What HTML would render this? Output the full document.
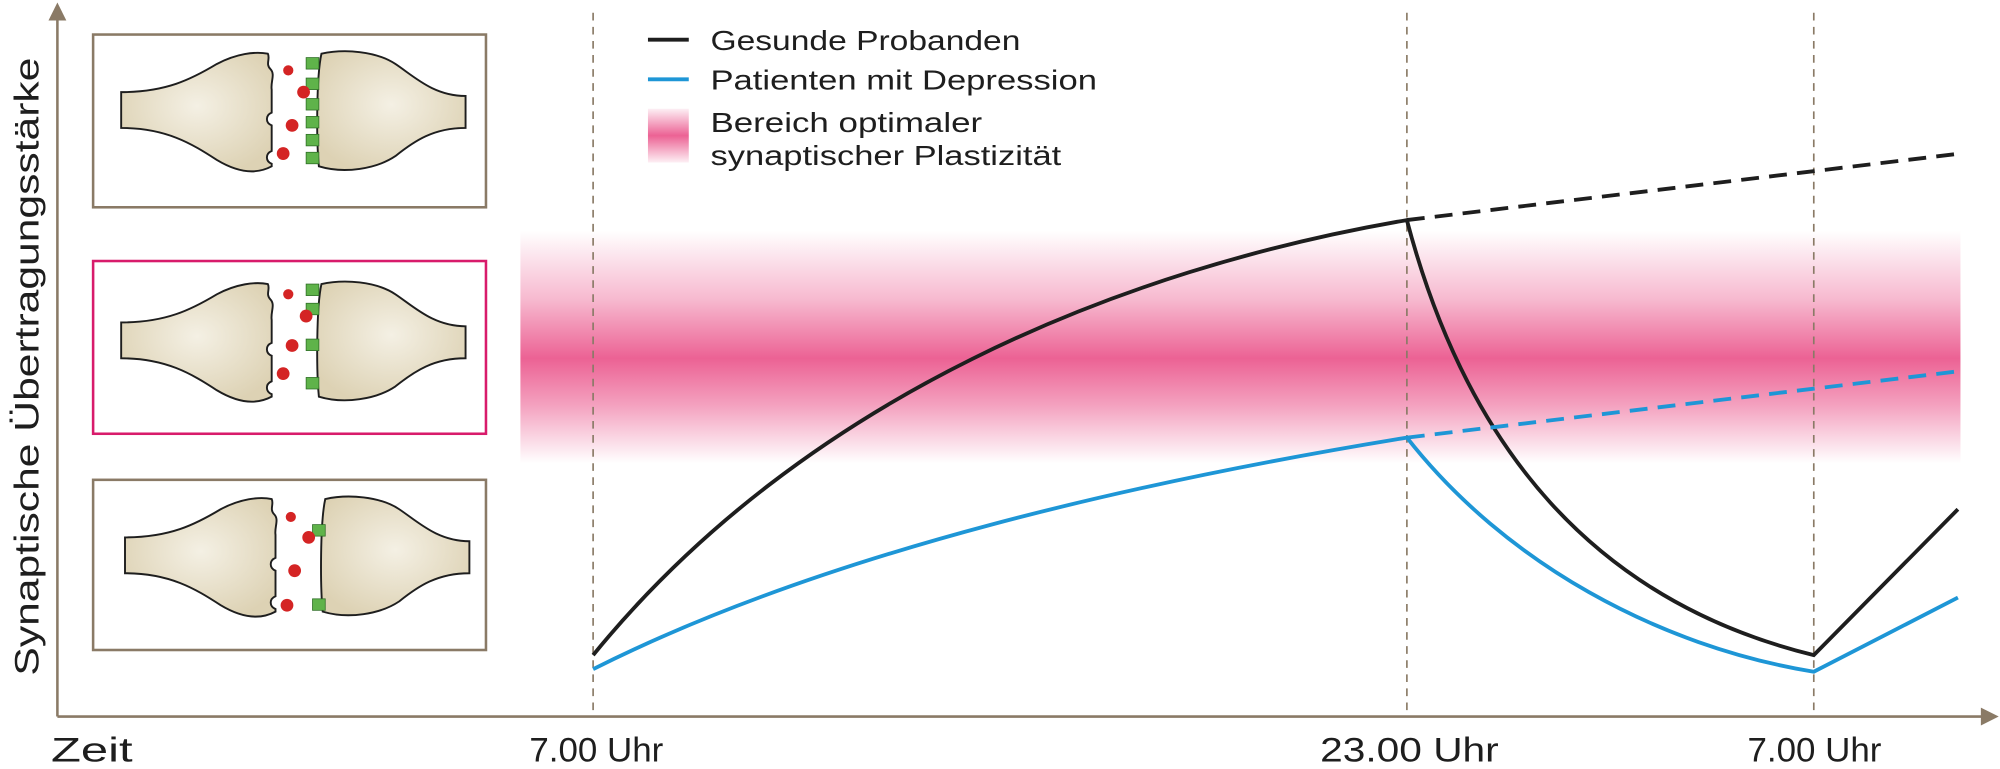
<!DOCTYPE html>
<html><head><meta charset="utf-8"><style>html,body{margin:0;padding:0;background:#fff}svg{display:block}</style></head>
<body>
<svg width="2000" height="769" viewBox="0 0 1568 601" preserveAspectRatio="none" xmlns="http://www.w3.org/2000/svg" font-family="'Liberation Sans', sans-serif">
<defs>
<linearGradient id="band" x1="0" y1="0" x2="0" y2="1">
<stop offset="0" stop-color="#ec6294" stop-opacity="0"/>
<stop offset="0.3" stop-color="#ec6294" stop-opacity="0.45"/>
<stop offset="0.55" stop-color="#ec6294" stop-opacity="1"/>
<stop offset="0.75" stop-color="#ec6294" stop-opacity="0.6"/>
<stop offset="1" stop-color="#ec6294" stop-opacity="0"/>
</linearGradient>
<linearGradient id="sw" x1="0" y1="0" x2="0" y2="1">
<stop offset="0" stop-color="#ec6294" stop-opacity="0.1"/>
<stop offset="0.5" stop-color="#ec6294" stop-opacity="1"/>
<stop offset="1" stop-color="#ec6294" stop-opacity="0.1"/>
</linearGradient>
<radialGradient id="cell" cx="0.5" cy="0.45" r="0.6">
<stop offset="0" stop-color="#f4f0e4"/>
<stop offset="1" stop-color="#ddd2b4"/>
</radialGradient>
<g id="syn">
<path d="M95,72 C130,72 150,62 170,50 C185,42 200,40 210,42 C212,46 208,50 212,54 C216,58 212,64 213,70 L213,88 C208,90 208,96 213,98 L213,118 C208,120 208,126 213,128 L213,130 C200,137 185,134 170,125 C150,112 130,100 95,100 Z" fill="url(#cell)" stroke="#1e1e1e" stroke-width="1.5"/>
<path d="M365,75 C340,75 325,60 310,50 C295,40 270,38 252,42 C248,60 248,110 250,130 C270,136 295,132 310,122 C325,110 340,100 365,100 Z" fill="url(#cell)" stroke="#1e1e1e" stroke-width="1.5"/>
</g>
</defs>
<rect x="408" y="180" width="1129" height="182" fill="url(#band)"/>
<g stroke="#8a7a66" stroke-width="1.3" stroke-dasharray="6,5">
<line x1="465" y1="10" x2="465" y2="560"/>
<line x1="1103" y1="10" x2="1103" y2="560"/>
<line x1="1422" y1="10" x2="1422" y2="560"/>
</g>
<g fill="none" stroke="#8a7a66" stroke-width="2">
<line x1="45" y1="8" x2="45" y2="560"/>
<line x1="45" y1="560" x2="1558" y2="560"/>
</g>
<path d="M45,2 L38,16 L52,16 Z" fill="#8a7a66"/>
<path d="M1567,560 L1553,553 L1553,567 Z" fill="#8a7a66"/>
<g fill="none" stroke-width="3">
<path d="M465,512 C630,310 880,210 1103,172 C1150,350 1250,470 1422,512 L1535,398" stroke="#1e1e1e"/>
<path d="M1103,172 L1537,120" stroke="#1e1e1e" stroke-dasharray="14,8"/>
<path d="M465,523 C650,430 900,375 1103,342 C1180,440 1300,505 1422,525 L1535,467" stroke="#1e96d6"/>
<path d="M1103,342 L1537,290" stroke="#1e96d6" stroke-dasharray="14,8"/>
</g>
<rect x="73" y="27" width="308" height="135" fill="none" stroke="#8a7a66" stroke-width="2"/>
<rect x="73" y="204" width="308" height="135" fill="none" stroke="#d81b6b" stroke-width="2"/>
<rect x="73" y="375" width="308" height="133" fill="none" stroke="#8a7a66" stroke-width="2"/>
<use href="#syn"/>
<use href="#syn" y="180"/>
<use href="#syn" x="3" y="348"/>
<g fill="#5fb34a" stroke="#2d6d25" stroke-width="0.6">
<rect x="240" y="45" width="10" height="9"/><rect x="240" y="61" width="10" height="9"/><rect x="240" y="77" width="10" height="9"/><rect x="240" y="91" width="10" height="9"/><rect x="240" y="105" width="10" height="9"/><rect x="240" y="119" width="10" height="9"/>
<rect x="240" y="222" width="10" height="9"/><rect x="240" y="237" width="10" height="9"/><rect x="240" y="265" width="10" height="9"/><rect x="240" y="295" width="10" height="9"/>
<rect x="245" y="410" width="10" height="9"/><rect x="245" y="468" width="10" height="9"/>
</g>
<g fill="#d42424">
<circle cx="226" cy="55" r="4"/><circle cx="238" cy="72" r="5"/><circle cx="229" cy="98" r="5"/><circle cx="222" cy="120" r="5"/>
<circle cx="226" cy="230" r="4"/><circle cx="240" cy="247" r="5"/><circle cx="229" cy="270" r="5"/><circle cx="222" cy="292" r="5"/>
<circle cx="228" cy="404" r="4"/><circle cx="242" cy="420" r="5"/><circle cx="231" cy="446" r="5"/><circle cx="225" cy="473" r="5"/>
</g>
<line x1="508" y1="31" x2="540" y2="31" stroke="#1e1e1e" stroke-width="3"/>
<line x1="508" y1="62" x2="540" y2="62" stroke="#1e96d6" stroke-width="3"/>
<rect x="508" y="85" width="32" height="42" fill="url(#sw)"/>
<g font-size="22" fill="#1e1e1e">
<text x="557" y="39" textLength="243" lengthAdjust="spacingAndGlyphs">Gesunde Probanden</text>
<text x="557" y="70" textLength="303" lengthAdjust="spacingAndGlyphs">Patienten mit Depression</text>
<text x="557" y="103" textLength="213" lengthAdjust="spacingAndGlyphs">Bereich optimaler</text>
<text x="557" y="129" textLength="275" lengthAdjust="spacingAndGlyphs">synaptischer Plastizität</text>
</g>
<g font-size="27" fill="#1e1e1e">
<text x="40" y="595" textLength="64" lengthAdjust="spacingAndGlyphs">Zeit</text>
<text x="415" y="595" textLength="105" lengthAdjust="spacingAndGlyphs">7.00 Uhr</text>
<text x="1035" y="595" textLength="140" lengthAdjust="spacingAndGlyphs">23.00 Uhr</text>
<text x="1370" y="595" textLength="105" lengthAdjust="spacingAndGlyphs">7.00 Uhr</text>
<text transform="translate(30,528) rotate(-90)" textLength="483" lengthAdjust="spacingAndGlyphs">Synaptische Übertragungsstärke</text>
</g>
</svg>
</body></html>
